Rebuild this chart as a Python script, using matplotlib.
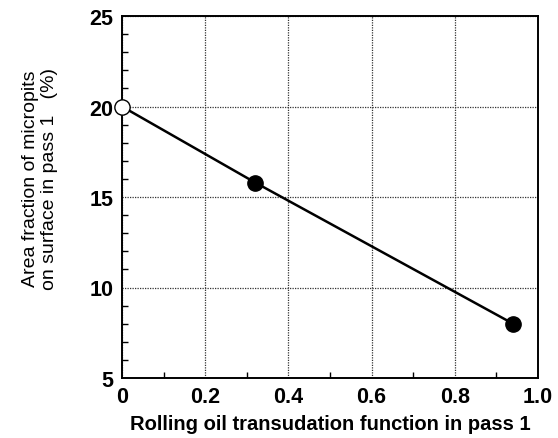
import matplotlib
matplotlib.use("Agg")
import matplotlib.pyplot as plt
from matplotlib.ticker import MultipleLocator

# ── Data ──────────────────────────────────────────────────────────────────────
transudation = [0.0, 0.32, 0.94]
area_fraction = [20.0, 15.8, 8.0]
filled = [False, True, True]

x_ticks = [0, 0.2, 0.4, 0.6, 0.8, 1.0]
x_tick_labels = ["0", "0.2", "0.4", "0.6", "0.8", "1.0"]
y_ticks = [5, 10, 15, 20, 25]

plt.rcParams["font.family"] = ["Liberation Sans", "DejaVu Sans"]
plt.rcParams["font.weight"] = "bold"

fig = plt.figure(figsize=(5.58, 4.39), dpi=100)
ax = fig.add_axes([122 / 558, 1 - 379 / 439, 416 / 558, 362 / 439])

ax.plot(transudation, area_fraction, color="black", linewidth=1.8, zorder=3)
for x, y, f in zip(transudation, area_fraction, filled):
    ax.plot(x, y, marker="o", markersize=11, markeredgewidth=1.0,
            markeredgecolor="black", markerfacecolor="black" if f else "white",
            clip_on=False, zorder=4)

ax.set_xlim(0, 1.0)
ax.set_ylim(5, 25)
ax.set_xticks(x_ticks)
ax.set_xticklabels(x_tick_labels)
ax.set_yticks(y_ticks)
ax.xaxis.set_minor_locator(MultipleLocator(0.1))
ax.yaxis.set_minor_locator(MultipleLocator(1))
ax.tick_params(which="both", direction="in", labelsize=15.5)
ax.tick_params(which="major", length=0, pad=6)
ax.tick_params(which="minor", length=4, width=1)
ax.grid(True, which="major", linestyle=(0, (1, 1.0)), color="#333333", linewidth=0.9)
for s in ax.spines.values():
    s.set_linewidth(1.4)

ax.set_xlabel("Rolling oil transudation function in pass 1", fontsize=14.5,
              fontweight="bold", labelpad=5)
ax.set_ylabel("Area fraction of micropits\non surface in pass 1   (%)",
              fontsize=14, fontweight="normal", linespacing=1.1)
ax.yaxis.set_label_coords(-0.155, 0.552)

fig.savefig("out.png", dpi=100)
